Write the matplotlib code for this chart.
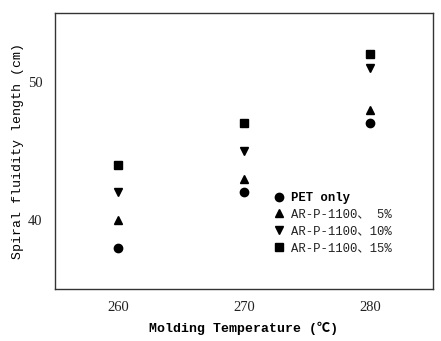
import matplotlib
matplotlib.use("Agg")
import matplotlib.pyplot as plt

temps = [260, 270, 280]
pet_only = [38, 42, 47]
arp_5 = [40, 43, 48]
arp_10 = [42, 45, 51]
arp_15 = [44, 47, 52]
labels = ["PET only", "AR-P-1100、 5%", "AR-P-1100、10%", "AR-P-1100、15%"]
markers = ["o", "^", "v", "s"]
series = [pet_only, arp_5, arp_10, arp_15]

fig = plt.figure(figsize=(4.41, 3.41), dpi=100)
ax = fig.add_axes([0.1247, 0.1525, 0.982 - 0.1247, 0.962 - 0.1525])

for vals, m, lab in zip(series, markers, labels):
    ax.plot(temps, vals, linestyle="none", marker=m, markersize=6,
            color="black", label=lab)

ax.set_xlim(255, 285)
ax.set_ylim(35, 55)
ax.set_xticks(temps)
ax.set_yticks([40, 50])
ax.tick_params(length=0, pad=9, labelsize=10.5, colors="#222222")
for t in ax.get_xticklabels() + ax.get_yticklabels():
    t.set_family("Liberation Serif")
for s in ax.spines.values():
    s.set_color("#333333")
    s.set_linewidth(1.0)

mono = ["Liberation Mono", "Noto Sans CJK JP"]
ax.set_xlabel("Molding Temperature (℃)", family=mono, fontsize=9.5,
              fontweight="bold", labelpad=5)
ax.set_ylabel("Spiral fluidity length (cm)", family=mono, fontsize=9.5,
              labelpad=3)

leg = ax.legend(loc="upper left", bbox_to_anchor=(0.58, 0.352), frameon=False,
                handlelength=0.8, handletextpad=0.6, labelspacing=0.4,
                borderaxespad=0, borderpad=0, prop={"family": mono, "size": 8.8})
for i, t in enumerate(leg.get_texts()):
    if i == 0:
        t.set_fontweight("bold")
    else:
        t.set_color("#222222")

fig.savefig("out.png", dpi=100)
